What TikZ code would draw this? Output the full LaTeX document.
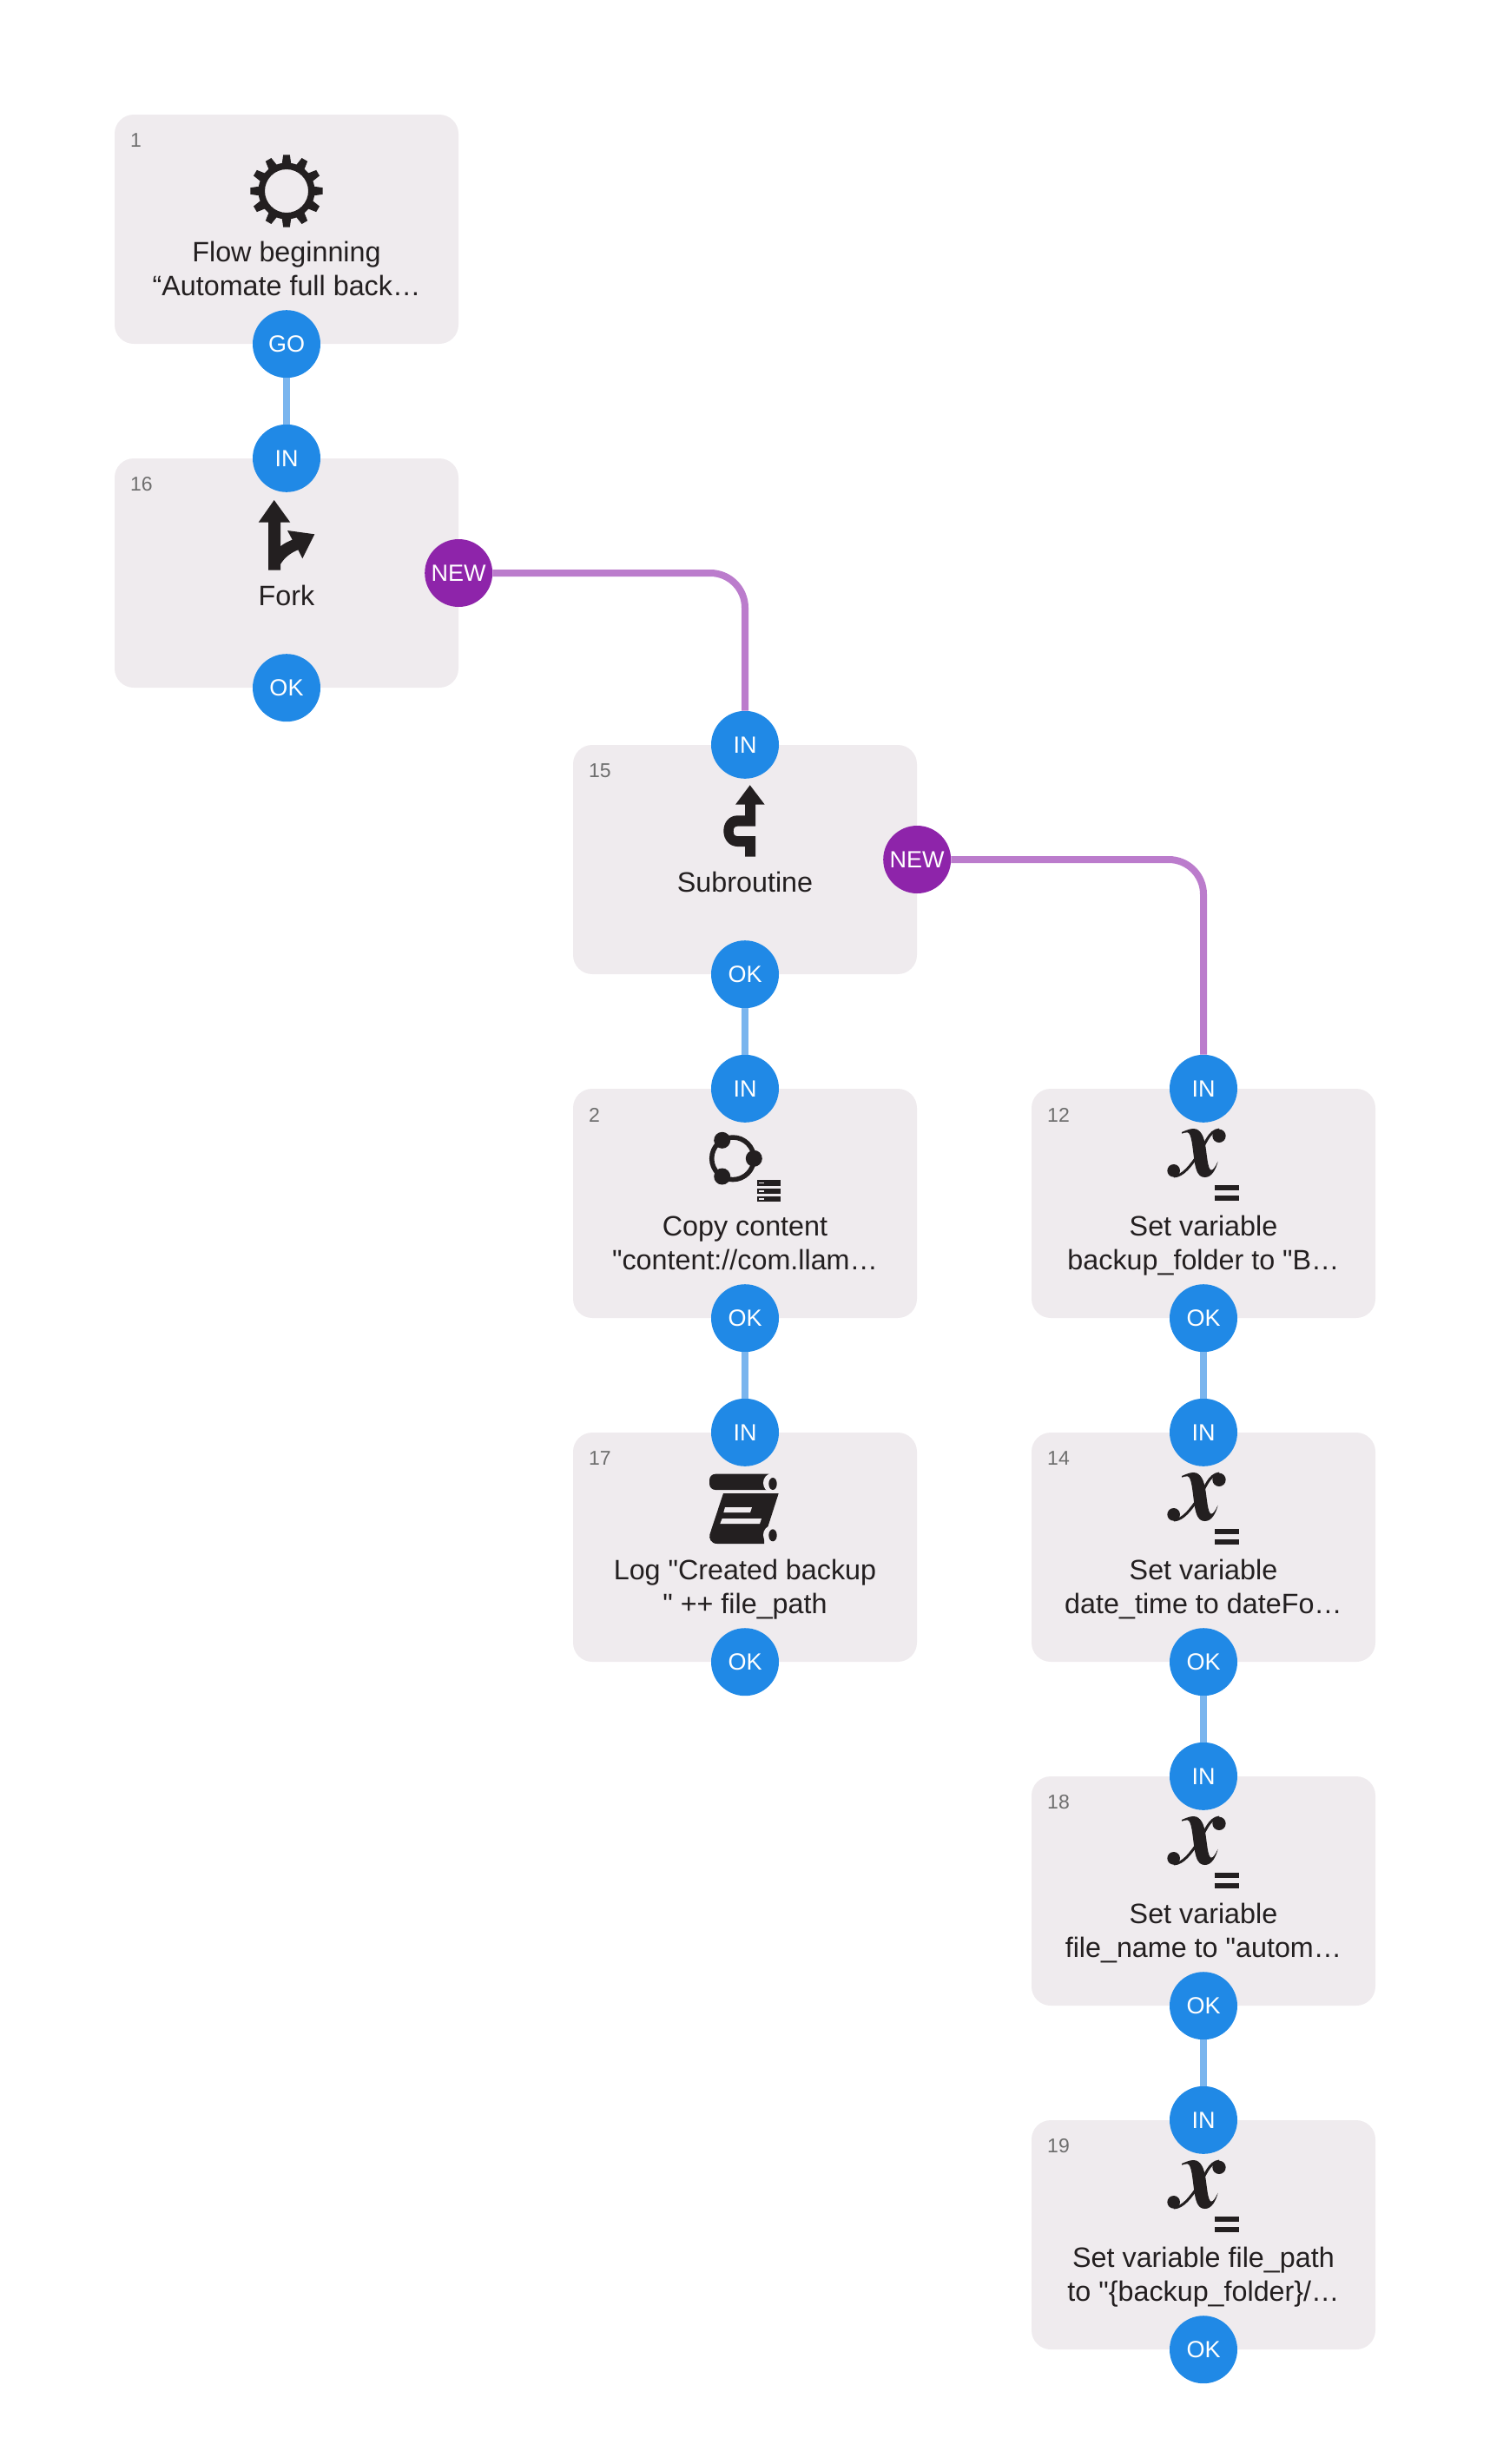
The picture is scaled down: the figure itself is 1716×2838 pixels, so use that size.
\documentclass[tikz,border=0pt]{standalone}
\usepackage{amsmath}
\usepackage{xcolor}
\usepackage{fontspec}
\setmainfont[Ligatures=TeXOff]{Liberation Sans}
\usetikzlibrary{positioning,calc}
\definecolor{boxgrey}{HTML}{EFEBEE}
\definecolor{inkdark}{HTML}{231F20}
\definecolor{numgrey}{HTML}{6E6E6E}
\definecolor{portblue}{HTML}{2089E6}
\definecolor{portpurple}{HTML}{8E24AA}
\definecolor{edgeblue}{HTML}{7AB5EE}
\definecolor{edgepurple}{HTML}{BB7CCC}
\tikzset{
  block/.style={fill=boxgrey, rounded corners=22pt, minimum width=396pt, minimum height=264pt, inner sep=0pt},
  title/.style={anchor=base, align=center, inner sep=0pt, text=inkdark, font=\fontsize{32.3}{39}\selectfont},
  number/.style={anchor=west, inner sep=0pt, text=numgrey, font=\fontsize{23}{27}\selectfont},
  port/.style={circle, fill=portblue, minimum size=78pt, inner sep=0pt, text=white, font=\fontsize{27}{30}\selectfont},
  newport/.style={port, fill=portpurple},
  flow/.style={edgeblue, line width=8pt},
  branch/.style={edgepurple, line width=8pt, rounded corners=40pt},
  icon/.style={fill=inkdark, draw=none}
}
\newcommand{\varicon}[2]{% x with an equals sign, top of box at (#1,#2)
  \begin{scope}[shift={(#1-51,#2+41)}, x=0.3333pt, y=-0.3333pt]
    \fill[icon] (78,27) .. controls (90,22) and (105,15) .. (118,15)
        .. controls (145,15) and (155,45) .. (160,75)
        .. controls (165,105) and (168,158) .. (180,158)
        .. controls (188,158) and (196,142) .. (203,128)
        .. controls (196,155) and (182,183) .. (158,183)
        .. controls (130,183) and (125,150) .. (120,115)
        .. controls (115,80) and (112,30) .. (98,28)
        .. controls (92,27) and (85,30) .. (78,32) -- cycle;
    \fill[icon] (50,160) circle (22) (207,40) circle (23);
    \draw[inkdark, line width=3pt] (50,180) .. controls (85,178) and (110,140) .. (135,105)
        .. controls (160,70) and (170,22) .. (208,18);
    \fill[icon] (193,210) rectangle (275,228);
    \fill[icon] (193,245) rectangle (275,263);
  \end{scope}
}
\begin{document}
\begin{tikzpicture}[x=1pt, y=-1pt]
    \useasboundingbox (0,0) rectangle (1716,2838);
    % boxes and their texts
    \foreach \cx/\ty/\id/\by/\lbl in {
        330/132/1/208/{Flow beginning\\“Automate full back…},
        330/528/16/169/{Fork},
        858/858/15/169/{Subroutine},
        858/1254/2/208/{Copy content\\"content://com.llam…},
        858/1650/17/208/{Log "Created backup\\" ++ file\_path},
        1386/1254/12/208/{Set variable\\backup\_folder to "B…},
        1386/1650/14/208/{Set variable\\date\_time to dateFo…},
        1386/2046/18/208/{Set variable\\file\_name to "autom…},
        1386/2442/19/208/{Set variable file\_path\\to "\{backup\_folder\}/…}}
    {
        \node[block] (box\id) at (\cx,\ty+132) {};
        \node[number] (num\id) at (\cx-180,\ty+30) {\id};
        \node[title] (title\id) at (\cx,\ty+\by) {\lbl};
    }
    % ports
    \foreach \id in {16,15,2,17,12,14,18,19}
        \node[port] (in\id) at (box\id.north) {IN};
    \foreach \id in {16,15,2,17,12,14,18,19}
        \node[port] (ok\id) at (box\id.south) {OK};
    \node[port] (go1) at (box1.south) {GO};
    \node[newport] (new16) at (box16.east) {NEW};
    \node[newport] (new15) at (box15.east) {NEW};
    % connectors
    \draw[flow] (go1) -- (in16);
    \draw[flow] (ok15) -- (in2);
    \draw[flow] (ok2) -- (in17);
    \draw[flow] (ok12) -- (in14);
    \draw[flow] (ok14) -- (in18);
    \draw[flow] (ok18) -- (in19);
    \draw[branch] (new16.east) -| (in15.north);
    \draw[branch] (new15.east) -| (in12.north);
    % gear
    \foreach \a in {0,30,...,330}
        \fill[icon, shift={(330,220)}, rotate=\a] (30,-5.5) -- (41.7,-3.8) -- (41.7,3.8) -- (30,5.5) -- cycle;
    \fill[icon, even odd rule] (330,220) circle (32.5) (330,220) circle (25);
    % fork
    \fill[icon] (315.7,576) -- (334.3,601.7) -- (323,601.7) -- (323,629.3)
        .. controls (327,626) and (332,623.5) .. (336.7,621.7) -- (331,611) -- (362.3,615.3)
        -- (348.3,643.3) -- (343.3,633.3) .. controls (334,637) and (327,643) .. (323,650)
        -- (323,656.7) -- (309,656.7) -- (309,601.7) -- (297.7,601.7) -- cycle;
    % subroutine
    \fill[icon] (863.7,904.3) -- (880.7,926.7) -- (870,926.7) -- (870,951.7) -- (849.3,951.7)
        .. controls (846,951.7) and (844.7,954) .. (844.7,957.3)
        .. controls (844.7,961) and (846,963) .. (849.3,963)
        -- (870,963) -- (870,986.7) -- (858,986.7) -- (858,975) -- (849.3,975)
        .. controls (840,975) and (833.3,967) .. (833.3,957)
        .. controls (833.3,947) and (840,939.3) .. (849.3,939.3)
        -- (858,939.3) -- (858,926.7) -- (847,926.7) -- cycle;
    % copy content
    \draw[inkdark, line width=5.5pt] (844,1334.3) circle (24.3);
    \fill[icon] (831.7,1313.3) circle (9.5) (868.3,1334.3) circle (9.5) (831.7,1355) circle (9.5);
    \foreach \sy in {1359.3,1369,1378}
    {
        \fill[icon] (871.7,\sy) rectangle (899,\sy+6.3);
        \fill[boxgrey] (874,\sy+2.2) rectangle (880,\sy+4);
    }
    % log scroll
    \fill[icon, rounded corners=7pt] (817,1697.7) rectangle (892,1716);
    \fill[icon] (833,1720) -- (896.7,1720) -- (880,1772) -- (880,1778) -- (826,1778)
        .. controls (819,1778) and (816,1772) .. (817.5,1767) -- cycle;
    \fill[boxgrey] (835,1736) -- (866,1736) -- (864,1742) -- (833.3,1742) -- cycle;
    \fill[boxgrey] (831.7,1749) -- (877,1749) -- (875,1755) -- (829.3,1755) -- cycle;
    \fill[boxgrey] (888,1708) ellipse (9 and 10.5);
    \fill[boxgrey] (888,1768) ellipse (9 and 10.5);
    \fill[icon] (890,1709) ellipse (4.7 and 7);
    \fill[icon] (890,1768.3) ellipse (4.7 and 7);
    % set variable icons
    \foreach \ty in {1254,1650,2046,2442}
    {
        \varicon{1386}{\ty}
    }
\end{tikzpicture}
\end{document}
